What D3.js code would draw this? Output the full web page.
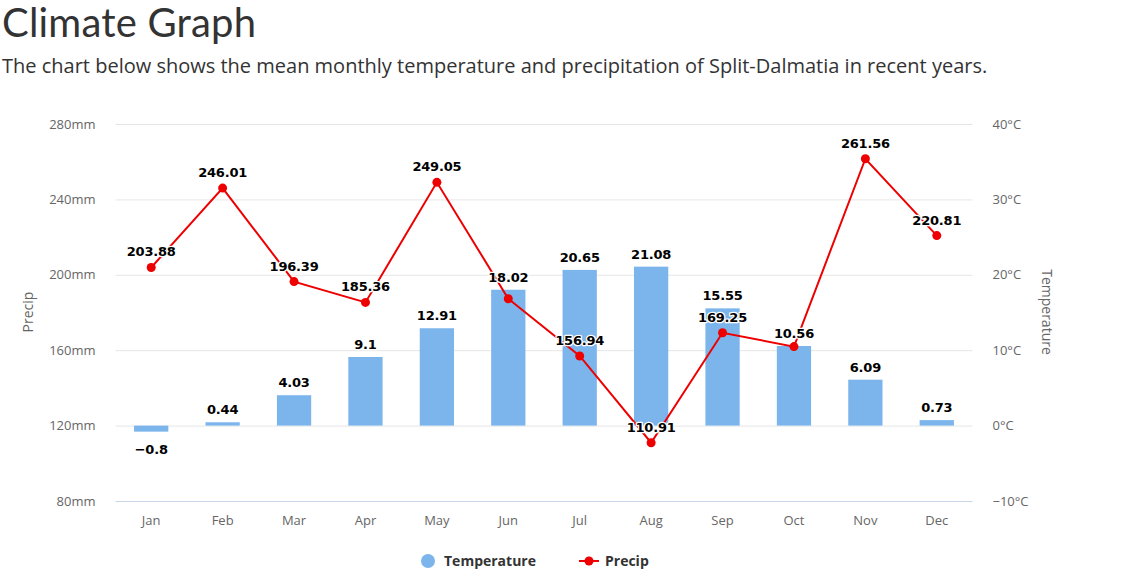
<!DOCTYPE html>
<html>
<head>
<meta charset="utf-8">
<script src="https://cdn.jsdelivr.net/npm/d3@7"></script>
<style>
  body { margin: 0; background: #fff; font-family: "Open Sans", sans-serif; }
  h1 { margin: 0; position: absolute; left: 2px; top: -2px; font-family: "Lato", sans-serif; font-weight: 400; font-size: 40px; color: #333; line-height: 48px; letter-spacing: 0.2px; }
  p.sub { margin: 0; position: absolute; left: 2px; top: 52px; font-size: 20px; color: #333; }
  #chart { position: absolute; left: 0; top: 0; }
</style>
</head>
<body>
<h1>Climate Graph</h1>
<p class="sub">The chart below shows the mean monthly temperature and precipitation of Split-Dalmatia in recent years.</p>
<div id="chart"></div>
<script>
const months = ["Jan", "Feb", "Mar", "Apr", "May", "Jun", "Jul", "Aug", "Sep", "Oct", "Nov", "Dec"];
const temperature = [-0.8, 0.44, 4.03, 9.1, 12.91, 18.02, 20.65, 21.08, 15.55, 10.56, 6.09, 0.73];
const precip = [203.88, 246.01, 196.39, 185.36, 249.05, 187.3, 156.94, 110.91, 169.25, 161.9, 261.56, 220.81];
const precipTicks = [80, 120, 160, 200, 240, 280];
const tempTicks = [-10, 0, 10, 20, 30, 40];

const W = 1127, H = 587;
const plotLeft = 115.5, plotRight = 972.5, plotTop = 124, plotBottom = 501;

// numbers with a real minus sign
const fmt = v => String(v).replace("-", "\u2212");

const svg = d3.select("#chart").append("svg").attr("width", W).attr("height", H);

const x = d3.scaleBand().domain(months).range([plotLeft, plotRight]).paddingInner(0.52).paddingOuter(0.26);
const xc = d3.scaleBand().domain(months).range([plotLeft, plotRight]);
const yP = d3.scaleLinear().domain([80, 280]).range([plotBottom, plotTop]);
const yT = d3.scaleLinear().domain([-10, 40]).range([plotBottom, plotTop]);
const cx = m => xc(m) + xc.bandwidth() / 2;

// grid
svg.append("g").selectAll("line").data(precipTicks).join("line")
  .attr("x1", plotLeft).attr("x2", plotRight)
  .attr("y1", d => yP(d) + 0.5).attr("y2", d => yP(d) + 0.5)
  .attr("stroke", d => d === 80 ? "#ccd6eb" : "#e6e6e6").attr("stroke-width", 1);

function styleAxis(g) {
  g.select(".domain").remove();
  g.selectAll("text").attr("font-family", "Open Sans").attr("font-size", 13).attr("fill", "#666");
}

svg.append("g").attr("transform", `translate(${plotLeft - 17},0)`)
  .call(d3.axisLeft(yP).tickValues(precipTicks).tickFormat(d => d + "mm").tickSize(0))
  .call(styleAxis);

svg.append("g").attr("transform", `translate(${plotRight + 17},0)`)
  .call(d3.axisRight(yT).tickValues(tempTicks).tickFormat(d => fmt(d) + "°C").tickSize(0))
  .call(styleAxis);

svg.append("g").attr("transform", `translate(0,${plotBottom + 12})`)
  .call(d3.axisBottom(xc).tickSize(0))
  .call(styleAxis);

// axis titles
svg.append("text").attr("transform", "translate(33,312) rotate(-90)")
  .attr("text-anchor", "middle").attr("font-size", 14).attr("fill", "#666").text("Precip");
svg.append("text").attr("transform", "translate(1042,312) rotate(90)")
  .attr("text-anchor", "middle").attr("font-size", 14).attr("fill", "#666").text("Temperature");

const data = months.map((m, i) => ({ m, t: temperature[i], p: precip[i] }));

// bars
svg.append("g").selectAll("rect").data(data).join("rect")
  .attr("x", d => x(d.m))
  .attr("width", x.bandwidth())
  .attr("y", d => Math.min(yT(d.t), yT(0)))
  .attr("height", d => Math.abs(yT(d.t) - yT(0)))
  .attr("fill", "#7cb5ec");

// precip line
const line = d3.line().x(d => cx(d.m)).y(d => yP(d.p));
svg.append("path").datum(data).attr("d", line)
  .attr("fill", "none").attr("stroke", "#ee0000").attr("stroke-width", 2);
svg.append("g").selectAll("circle").data(data).join("circle")
  .attr("cx", d => cx(d.m)).attr("cy", d => yP(d.p))
  .attr("r", 4.5).attr("fill", "#ee0000");

function label(sel) {
  sel.attr("text-anchor", "middle").attr("font-family", "DejaVu Sans").attr("font-size", 13)
    .attr("font-weight", "bold").attr("letter-spacing", -0.2)
    .attr("fill", "#000").attr("stroke", "#fff").attr("stroke-width", 2.5)
    .attr("paint-order", "stroke").attr("stroke-linejoin", "round");
}

// bar labels
const barLabels = svg.append("g").selectAll("text").data(data).join("text")
  .attr("x", d => cx(d.m))
  .attr("y", d => d.t >= 0 ? yT(d.t) - 8 : yT(d.t) + 22)
  .text(d => fmt(d.t))
  .call(label);

// precip labels
const precipLabels = svg.append("g").selectAll("text").data(data).join("text")
  .attr("x", d => cx(d.m))
  .attr("y", d => yP(d.p) - 11)
  .text(d => fmt(d.p))
  .call(label);

// hide precip labels that collide with a bar label
const boxes = barLabels.nodes().map(n => n.getBBox());
precipLabels.each(function() {
  const b = this.getBBox();
  const hit = boxes.some(o => b.x < o.x + o.width && o.x < b.x + b.width && b.y < o.y + o.height && o.y < b.y + b.height);
  if (hit) d3.select(this).remove();
});

// legend
const lg = svg.append("g").attr("font-size", 14).attr("font-weight", "bold").attr("fill", "#333");
lg.append("circle").attr("cx", 428).attr("cy", 561).attr("r", 7).attr("fill", "#7cb5ec");
lg.append("text").attr("x", 444).attr("y", 566).text("Temperature");
lg.append("line").attr("x1", 579).attr("x2", 599).attr("y1", 561).attr("y2", 561).attr("stroke", "#ee0000").attr("stroke-width", 2);
lg.append("circle").attr("cx", 589).attr("cy", 561).attr("r", 4.5).attr("fill", "#ee0000");
lg.append("text").attr("x", 605).attr("y", 566).text("Precip");
</script>
</body>
</html>
